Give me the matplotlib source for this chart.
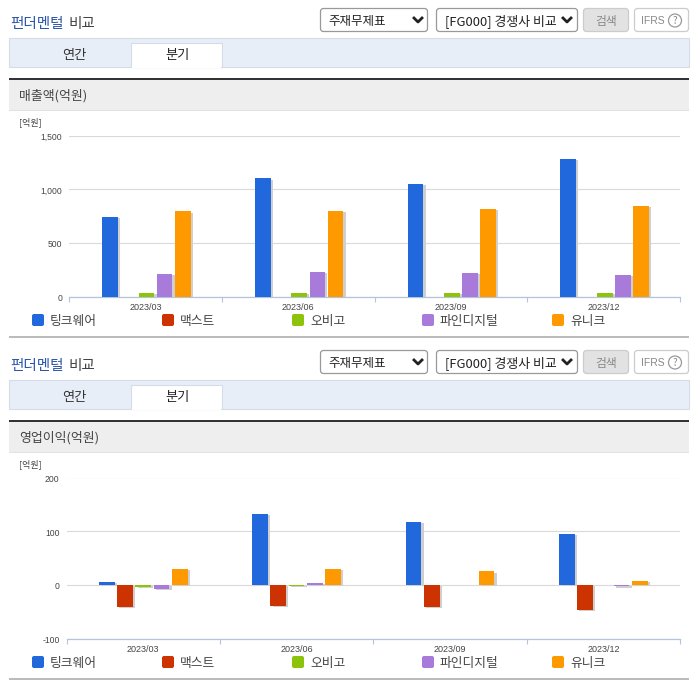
import matplotlib
matplotlib.use('Agg')
import matplotlib.pyplot as plt
import matplotlib.patheffects as pe
from matplotlib.patches import Rectangle, FancyBboxPatch, Circle
from matplotlib.transforms import ScaledTranslation
import numpy as np

plt.rcParams['font.family'] = ['Noto Sans CJK KR', 'DejaVu Sans']

W, H = 696, 684

quarters = ['2023/03', '2023/06', '2023/09', '2023/12']
companies = ['팅크웨어', '맥스트', '오비고', '파인디지털', '유니크']
colors = ['#2168DC', '#CC3300', '#8DC30B', '#A87BDB', '#FF9900']

# sales
sales_tink = [740, 1100, 1050, 1285]
sales_maxst = [0, 0, 0, 0]
sales_obigo = [35, 35, 35, 35]
sales_fine = [212, 230, 220, 198]
sales_unique = [792, 800, 818, 846]

# operating profit
op_tink = [5, 132, 118, 94]
op_maxst = [-41, -39, -42, -46]
op_obigo = [-4, -2, 0, 0]
op_fine = [-8, 4, 0, -3]
op_unique = [29, 29, 25, 8]

fig = plt.figure(figsize=(W / 100, H / 100), dpi=100, facecolor='white')
ui = fig.add_axes([0, 0, 1, 1], zorder=0)
ui.set_xlim(0, W)
ui.set_ylim(H, 0)
ui.axis('off')


def rect(x0, y0, x1, y1, fc, ec='none', lw=0.8):
    ui.add_patch(Rectangle((x0, y0), x1 - x0, y1 - y0, fc=fc, ec=ec, lw=lw))


def rbox(x0, y0, x1, y1, fc, ec):
    ui.add_patch(FancyBboxPatch((x0 + 2, y0 + 2), x1 - x0 - 4, y1 - y0 - 4,
                                boxstyle='round,pad=2,rounding_size=3', fc=fc, ec=ec, lw=0.9))


def chevron(x, y):
    ui.plot([x - 4, x, x + 4], [y - 2, y + 2, y - 2], color='#222222', lw=2)


def block(dy, heading, footer_y):
    # title and controls
    ui.text(10, 24 + dy, '펀더멘털', color='#2B55A8', fontsize=10.5, fontweight='medium', va='center')
    ui.text(69, 24 + dy, '비교', color='#444444', fontsize=10.5, fontweight='medium', va='center')
    rbox(320.5, 8.5 + dy, 427.5, 31.5 + dy, 'white', '#999999')
    ui.text(328, 21 + dy, '주재무제표', color='#222222', fontsize=9, va='center')
    chevron(418, 20 + dy)
    rbox(436.5, 8.5 + dy, 577.5, 31.5 + dy, 'white', '#999999')
    ui.text(445, 21 + dy, '[FG000] 경쟁사 비교', color='#222222', fontsize=9.3, va='center')
    chevron(567, 20 + dy)
    rbox(583.5, 8.5 + dy, 628.5, 31.5 + dy, '#E2E2E2', '#CCCCCC')
    ui.text(606, 21 + dy, '검색', color='#888888', fontsize=8.5, ha='center', va='center')
    rbox(634.5, 8.5 + dy, 688.5, 31.5 + dy, 'white', '#CCCCCC')
    ui.text(641, 20.5 + dy, 'IFRS', color='#888888', fontsize=7.5, va='center', family='Liberation Sans')
    ui.add_patch(Circle((675, 20.5 + dy), 6.5, fc='white', ec='#999999', lw=0.9))
    ui.text(675, 20.5 + dy, '?', color='#888888', fontsize=7, ha='center', va='center')

    # tabs
    rect(9, 38 + dy, 689, 67 + dy, '#E8EEF7', '#D5DCE8')
    rect(131, 43 + dy, 222, 67 + dy, 'white', '#D5DCE8')
    rect(131.6, 65 + dy, 221.4, 68 + dy, 'white')
    ui.text(74, 55.5 + dy, '연간', color='#333333', fontsize=9.5, ha='center', va='center')
    ui.text(177, 56 + dy, '분기', color='#222222', fontsize=9.5, ha='center', va='center')

    # section header
    rect(9, 80 + dy, 689, 110 + dy, '#EEEEEE')
    rect(9, 110 + dy, 689, 111 + dy, '#E2E2E2')
    rect(9, 78 + dy, 689, 80 + dy, '#333333')
    ui.text(19, 96 + dy, heading, color='#444444', fontsize=9.3, va='center')
    ui.text(19, 122.5 + dy, '[억원]', color='#444444', fontsize=6.5, va='center')

    # legend
    for i, name in enumerate(companies):
        x = 32 + 130 * i
        ui.add_patch(FancyBboxPatch((x + 2, footer_y - 22 + 2), 8, 8,
                                    boxstyle='round,pad=2,rounding_size=2', fc=colors[i], ec='none'))
        ui.text(x + 18, footer_y - 15, name, color='#444444', fontsize=9.2, va='center')
    rect(9, footer_y, 689, footer_y + 2, '#BBBBBB')


def chart(left, right, top, bottom, series, ylim, ticks, ticklabels, shift):
    ax = fig.add_axes([left / W, 1 - bottom / H, (right - left) / W, (bottom - top) / H], zorder=1)
    ax.patch.set_alpha(0)
    ax.set_xlim(0, len(quarters))
    ax.set_ylim(*ylim)
    x = np.arange(len(quarters)) + 0.5 + shift
    for i, vals in enumerate(series):
        bars = ax.bar(x + (i - 2) * 0.119, vals, width=0.103, color=colors[i], zorder=3)
        for b in bars:
            b.set_path_effects([pe.SimplePatchShadow(offset=(1.6, -0.8), shadow_rgbFace='#CFCFCF', alpha=1),
                                pe.Normal()])
    for s in ['top', 'right', 'left']:
        ax.spines[s].set_visible(False)
    ax.spines['bottom'].set_color('#B4C4DC')
    ax.spines['bottom'].set_linewidth(0.9)
    ax.set_yticks(ticks)
    ax.set_yticklabels(ticklabels, family='Liberation Sans', fontsize=6.2, color='#444444')
    ax.tick_params(axis='y', length=0, pad=5)
    for label in ax.get_yticklabels():
        label.set_transform(label.get_transform() + ScaledTranslation(0, -0.01, fig.dpi_scale_trans))
    ax.grid(axis='y', color='#DADADA', lw=0.8, zorder=1)
    ax.set_axisbelow(True)
    ax.set_xticks(np.arange(len(quarters) + 1))
    ax.set_xticklabels([])
    ax.set_xticks(np.arange(len(quarters)) + 0.5, minor=True)
    ax.set_xticklabels(quarters, minor=True, family='Liberation Sans', fontsize=6.5, color='#444444')
    ax.tick_params(axis='x', which='major', length=3.5, color='#B4C4DC', width=0.8)
    ax.tick_params(axis='x', which='minor', length=0, pad=4.6)
    return ax


block(0, '매출액(억원)', 336)
block(342, '영업이익(억원)', 678)

chart(69, 680, 135.5, 296.5,
      [sales_tink, sales_maxst, sales_obigo, sales_fine, sales_unique],
      (0, 1500), [0, 500, 1000, 1500], ['0', '500', '1,000', '1,500'], 0.007)
chart(66.5, 680, 477.5, 638.5,
      [op_tink, op_maxst, op_obigo, op_fine, op_unique],
      (-100, 200), [-100, 0, 100, 200], ['-100', '0', '100', '200'], 0.0)

fig.savefig('out.png', dpi=100)
